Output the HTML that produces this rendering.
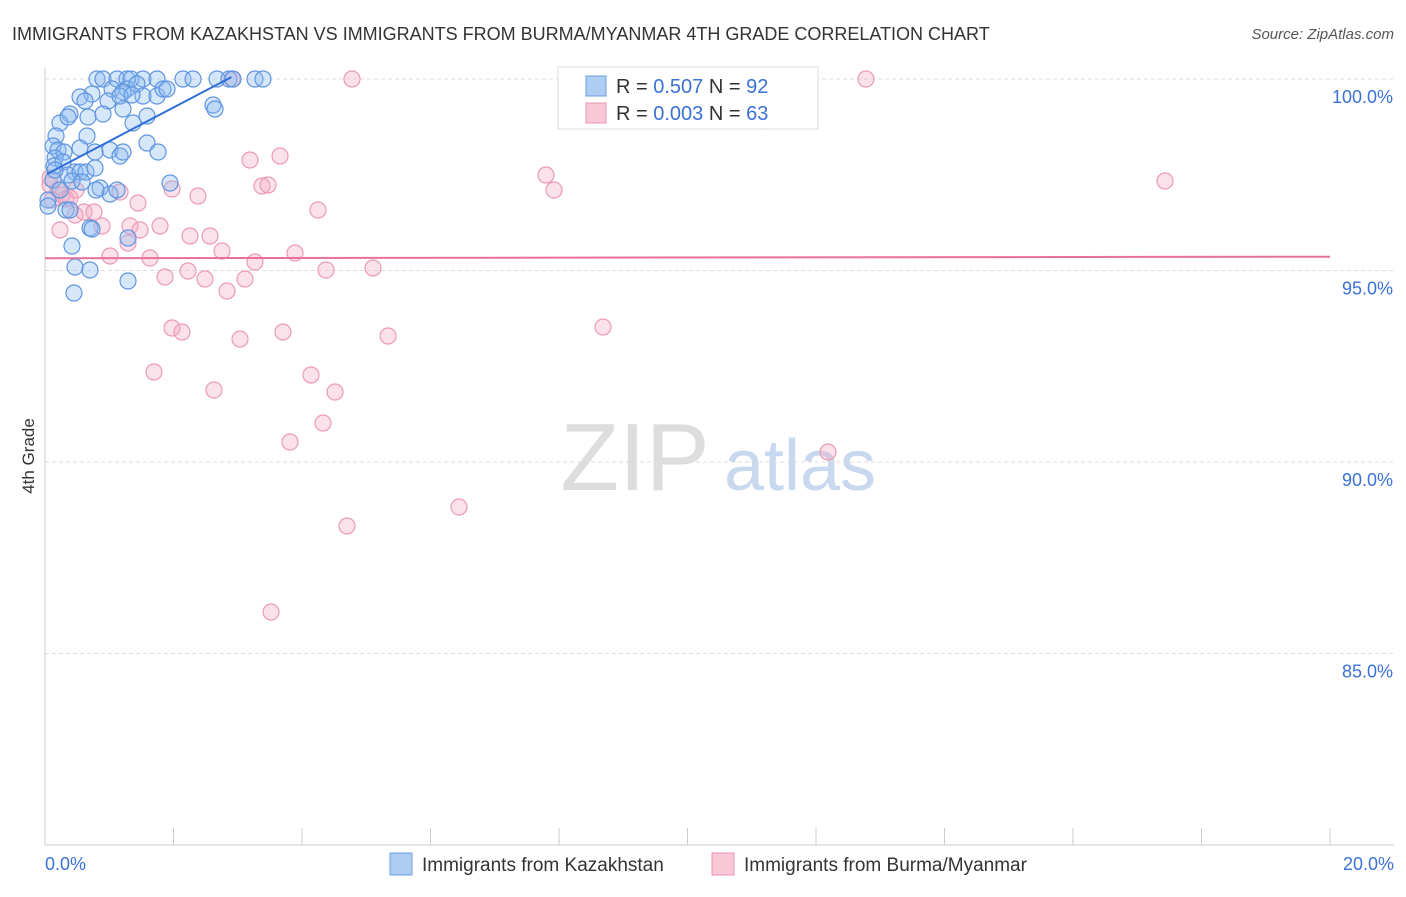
<!DOCTYPE html>
<html><head><meta charset="utf-8"><style>
body{margin:0;background:#fff;font-family:"Liberation Sans",sans-serif}
svg text{font-family:"Liberation Sans",sans-serif}
</style></head><body>
<svg id="chart" width="1406" height="892" xmlns="http://www.w3.org/2000/svg">
<text x="12" y="40" font-size="18" fill="#333">IMMIGRANTS FROM KAZAKHSTAN VS IMMIGRANTS FROM BURMA/MYANMAR 4TH GRADE CORRELATION CHART</text>
<text x="1394" y="39" font-size="15" fill="#555" text-anchor="end" font-style="italic">Source: ZipAtlas.com</text>
<text transform="translate(34,456) rotate(-90)" font-size="17" fill="#333" text-anchor="middle">4th Grade</text>
<g><text x="635" y="490" font-size="96" fill="#ddd" text-anchor="middle" font-family="Liberation Serif">ZIP</text><text x="800" y="490" font-size="72" fill="#c8d8ee" text-anchor="middle">atlas</text></g>
<g id="grid"></g><g id="axes"></g><g id="pts"></g><g id="trends"></g>
<g>
<rect x="558" y="67" width="260" height="62" fill="#fff" stroke="#ddd"/>
<rect x="586" y="76" width="20" height="20" fill="#aecdf3" stroke="#6d9fe0"/>
<text x="616" y="93" font-size="20" fill="#333">R = <tspan fill="#3a72d8">0.507</tspan>   N = <tspan fill="#3a72d8">92</tspan></text>
<rect x="586" y="103" width="20" height="20" fill="#f8c8d6" stroke="#e895b0"/>
<text x="616" y="120" font-size="20" fill="#333">R = <tspan fill="#3a72d8">0.003</tspan>   N = <tspan fill="#3a72d8">63</tspan></text>
</g>
<g>
<rect x="390" y="853" width="22" height="22" fill="#aecdf3" stroke="#6d9fe0"/>
<text x="422" y="871" font-size="19" fill="#333">Immigrants from Kazakhstan</text>
<rect x="712" y="853" width="22" height="22" fill="#f8c8d6" stroke="#e895b0"/>
<text x="744" y="871" font-size="19" fill="#333">Immigrants from Burma/Myanmar</text>
</g>
</svg>
<script>
const yTicks=[100,95,90,85];
const yTickLabels=["100.0%","95.0%","90.0%","85.0%"];
const xTickLabels=["0.0%","20.0%"];
const bluePx=[[97,79],[103,79],[117,79],[127,79],[131,79],[143,79],[157,79],[183,79],[193,79],[217,79],[229,79],[233,79],[255,79],[263,79],[127,89],[137,84],[112,89],[92,94],[80,97],[108,101],[123,92],[143,96],[157,96],[163,89],[167,89],[85,101],[70,114],[60,123],[68,117],[88,117],[103,114],[123,109],[133,123],[147,116],[213,105],[215,109],[56,136],[87,136],[53,146],[58,150],[64,152],[55,158],[80,148],[95,152],[110,150],[120,156],[123,152],[147,143],[158,152],[54,166],[63,162],[75,172],[68,175],[80,172],[86,172],[95,168],[72,181],[82,182],[100,188],[110,194],[117,190],[170,183],[48,200],[48,206],[66,210],[70,210],[90,228],[92,229],[128,238],[72,246],[75,267],[90,270],[128,281],[74,293],[53,180],[60,190],[55,170],[96,190],[120,96],[132,95]];
const pinkPx=[[232,79],[352,79],[866,79],[763,121],[250,160],[280,156],[546,175],[554,190],[1165,181],[262,186],[268,185],[318,210],[172,189],[198,196],[120,192],[50,185],[58,190],[62,195],[66,199],[70,198],[76,190],[84,212],[94,212],[102,226],[130,226],[140,230],[160,226],[138,203],[190,236],[210,236],[222,251],[255,262],[295,253],[128,243],[150,258],[110,256],[165,277],[188,271],[205,279],[227,291],[245,279],[326,270],[373,268],[172,328],[182,332],[240,339],[283,332],[388,336],[603,327],[154,372],[214,390],[311,375],[335,392],[323,423],[290,442],[828,452],[459,507],[347,526],[271,612],[75,215],[60,230],[50,178],[52,200]];
// convert pixel reads to data values (x in %, y in %)
const blueX=bluePx.map(p=>+((p[0]-45)/1285*20).toFixed(3));
const blueY=bluePx.map(p=>+(100-(p[1]-79)/38.3).toFixed(3));
const pinkX=pinkPx.map(p=>+((p[0]-45)/1285*20).toFixed(3));
const pinkY=pinkPx.map(p=>+(100-(p[1]-79)/38.3).toFixed(3));
const blueTrend=[[0.03,97.52],[2.9,100.05]];
const pinkTrend=[[0,95.32],[20,95.36]];
const X=v=>45+v/20*1285, Y=v=>79+(100-v)*38.3;
const NS="http://www.w3.org/2000/svg";
function mk(t,a,p){const e=document.createElementNS(NS,t);for(const k in a)e.setAttribute(k,a[k]);p.appendChild(e);return e;}
const grid=document.getElementById('grid'),axes=document.getElementById('axes');
yTicks.forEach((v,i)=>{
 const l=mk('line',{x1:45,x2:1394,y1:Y(v),y2:Y(v),stroke:'#ddd','stroke-dasharray':'4,3'},grid);
 
 
 const t=mk('text',{x:1393,y:Y(v)+24,'font-size':18,fill:'#3a72d8','text-anchor':'end'},grid);t.textContent=yTickLabels[i];
 
 
});
const ya=mk('line',{x1:45,x2:45,y1:68,y2:845,stroke:'#ccc'},axes);


const xa=mk('line',{x1:45,x2:1394,y1:845,y2:845,stroke:'#ccc'},axes);


for(let i=0;i<=10;i++){const t=mk('line',{x1:X(i*2),x2:X(i*2),y1:828,y2:845,stroke:'#ccc'},axes);
 
 }
[[0,'start',45],[20,'end',1394]].forEach((d,i)=>{const t=mk('text',{x:d[2],y:870,'font-size':18,fill:'#3a72d8','text-anchor':d[1]},axes);t.textContent=xTickLabels[i];
 
 });
const pts=document.getElementById('pts');
pinkX.forEach((x,i)=>{const c=mk('circle',{cx:X(x),cy:Y(pinkY[i]),r:8,fill:'rgba(244,170,195,0.35)',stroke:'#ec9ab5','stroke-width':1.2},pts);
 
 });
blueX.forEach((x,i)=>{const c=mk('circle',{cx:X(x),cy:Y(blueY[i]),r:8,fill:'rgba(140,185,240,0.35)',stroke:'#5f95e0','stroke-width':1.2},pts);
 
 });
const tr=document.getElementById('trends');
const b=mk('line',{x1:X(blueTrend[0][0]),y1:Y(blueTrend[0][1]),x2:X(blueTrend[1][0]),y2:Y(blueTrend[1][1]),stroke:'#2e6fd8','stroke-width':2},tr);


const p=mk('line',{x1:X(pinkTrend[0][0]),y1:Y(pinkTrend[0][1]),x2:X(pinkTrend[1][0]),y2:Y(pinkTrend[1][1]),stroke:'#e8709a','stroke-width':2},tr);


</script>
</body></html>
